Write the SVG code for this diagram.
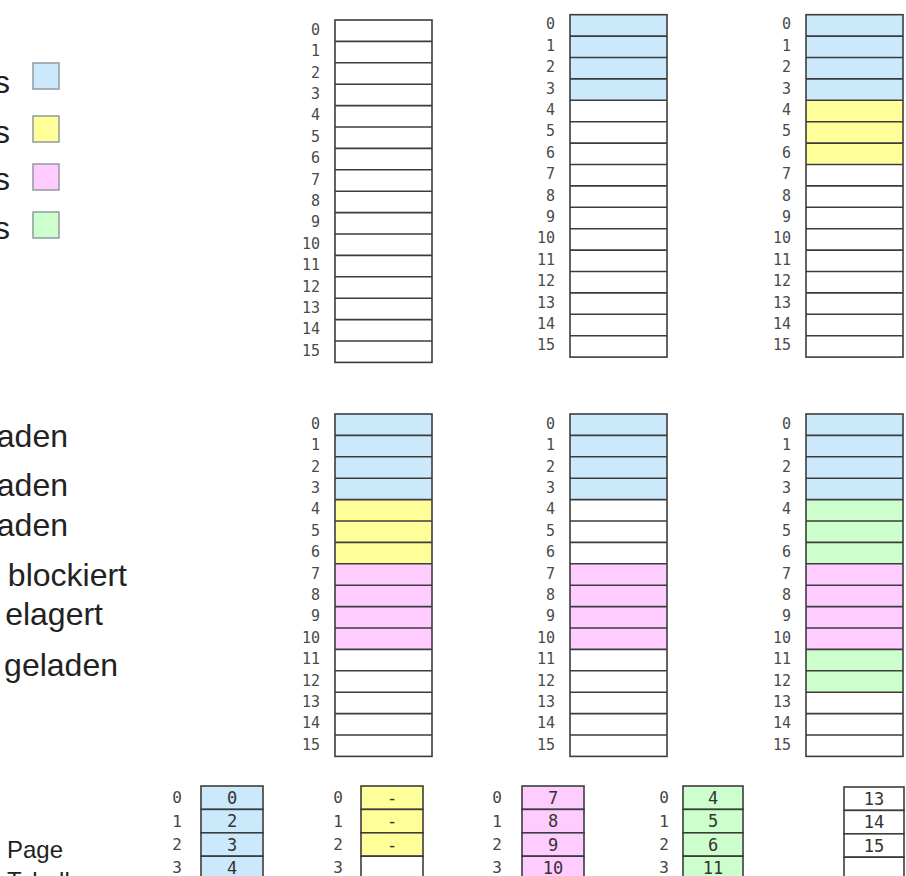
<svg xmlns="http://www.w3.org/2000/svg" xmlns:xlink="http://www.w3.org/1999/xlink" width="906" height="876" viewBox="0 0 906 876">
<style>
.lbl{font-family:"DejaVu Sans Mono","Liberation Mono",monospace;font-size:15px;fill:#4a4a4a;text-anchor:end;dominant-baseline:central}
.tl{font-family:"DejaVu Sans Mono","Liberation Mono",monospace;font-size:16px;fill:#444;text-anchor:middle;dominant-baseline:central}
.tv{font-family:"DejaVu Sans Mono","Liberation Mono",monospace;font-size:17px;fill:#333;text-anchor:middle;dominant-baseline:central}
.big{font-family:"Liberation Sans",Arial,sans-serif;font-size:32px;fill:#222}
.pg{font-family:"Liberation Sans",Arial,sans-serif;font-size:24px;fill:#222}
.ln{stroke:#3c3c3c;stroke-width:1.6;fill:none}
.cell{stroke:#3c3c3c;stroke-width:1.6}
.b{fill:#cce8fb}.y{fill:#ffff99}.p{fill:#ffccff}.g{fill:#ccffcc}.w{fill:#fff}
.lg{stroke:#909aa3;stroke-width:1.5}
</style>
<defs>
<g id="grid">
<rect class="ln" x="0" y="0" width="97" height="342.4"/>
<path class="ln" d="M0 21.4H97M0 42.8H97M0 64.2H97M0 85.6H97M0 107H97M0 128.4H97M0 149.8H97M0 171.2H97M0 192.6H97M0 214H97M0 235.4H97M0 256.8H97M0 278.2H97M0 299.6H97M0 321H97"/>
<text class="lbl" x="-15" y="9.7">0</text>
<text class="lbl" x="-15" y="31.1">1</text>
<text class="lbl" x="-15" y="52.5">2</text>
<text class="lbl" x="-15" y="73.9">3</text>
<text class="lbl" x="-15" y="95.3">4</text>
<text class="lbl" x="-15" y="116.7">5</text>
<text class="lbl" x="-15" y="138.1">6</text>
<text class="lbl" x="-15" y="159.5">7</text>
<text class="lbl" x="-15" y="180.9">8</text>
<text class="lbl" x="-15" y="202.3">9</text>
<text class="lbl" x="-15" y="223.7">10</text>
<text class="lbl" x="-15" y="245.1">11</text>
<text class="lbl" x="-15" y="266.5">12</text>
<text class="lbl" x="-15" y="287.9">13</text>
<text class="lbl" x="-15" y="309.3">14</text>
<text class="lbl" x="-15" y="330.7">15</text>
</g>
</defs>
<rect x="0" y="0" width="906" height="876" fill="#fff"/>

<g id="legend">
<text class="big" x="10" y="93" text-anchor="end">s</text>
<rect class="lg b" x="33" y="63" width="26" height="26"/>
<text class="big" x="10" y="143" text-anchor="end">s</text>
<rect class="lg y" x="33" y="116" width="26" height="26"/>
<text class="big" x="10" y="190" text-anchor="end">s</text>
<rect class="lg p" x="33" y="164" width="26" height="26"/>
<text class="big" x="10" y="239" text-anchor="end">s</text>
<rect class="lg g" x="33" y="212" width="26" height="26"/>
</g>

<g id="steps">
<text class="big" x="68" y="447" text-anchor="end">aden</text>
<text class="big" x="68" y="496" text-anchor="end">aden</text>
<text class="big" x="68" y="536" text-anchor="end">aden</text>
<text class="big" x="127" y="586" text-anchor="end">blockiert</text>
<text class="big" x="103" y="625" text-anchor="end">elagert</text>
<text class="big" x="118" y="676" text-anchor="end">geladen</text>
</g>

<g id="pagetable-caption">
<text class="pg" x="7" y="858">Page</text>
<text class="pg" x="7" y="889">Tabelle</text>
</g>

<g id="mem-t1" transform="translate(335,20)">
<use xlink:href="#grid"/>
</g>
<g id="mem-t2" transform="translate(570,14.7)">
<rect class="b" x="0" y="0" width="97" height="85.6"/>
<use xlink:href="#grid"/>
</g>
<g id="mem-t3" transform="translate(806,14.7)">
<rect class="b" x="0" y="0" width="97" height="85.6"/>
<rect class="y" x="0" y="85.6" width="97" height="64.2"/>
<use xlink:href="#grid"/>
</g>
<g id="mem-b1" transform="translate(335,414)">
<rect class="b" x="0" y="0" width="97" height="85.6"/>
<rect class="y" x="0" y="85.6" width="97" height="64.2"/>
<rect class="p" x="0" y="149.8" width="97" height="85.6"/>
<use xlink:href="#grid"/>
</g>
<g id="mem-b2" transform="translate(570,414)">
<rect class="b" x="0" y="0" width="97" height="85.6"/>
<rect class="p" x="0" y="149.8" width="97" height="85.6"/>
<use xlink:href="#grid"/>
</g>
<g id="mem-b3" transform="translate(806,414)">
<rect class="b" x="0" y="0" width="97" height="85.6"/>
<rect class="g" x="0" y="85.6" width="97" height="64.2"/>
<rect class="p" x="0" y="149.8" width="97" height="85.6"/>
<rect class="g" x="0" y="235.4" width="97" height="42.8"/>
<use xlink:href="#grid"/>
</g>

<g id="pt1">
<rect class="cell b" x="201" y="786" width="62" height="23.4"/>
<rect class="cell b" x="201" y="809.4" width="62" height="23.4"/>
<rect class="cell b" x="201" y="832.8" width="62" height="23.4"/>
<rect class="cell b" x="201" y="856.2" width="62" height="23.4"/>
<text class="tl" x="177" y="797.7">0</text><text class="tl" x="177" y="821.1">1</text><text class="tl" x="177" y="844.5">2</text><text class="tl" x="177" y="867.9">3</text>
<text class="tv" x="232" y="797.7">0</text><text class="tv" x="232" y="821.1">2</text><text class="tv" x="232" y="844.5">3</text><text class="tv" x="232" y="867.9">4</text>
</g>
<g id="pt2">
<rect class="cell y" x="361" y="786" width="62" height="23.4"/>
<rect class="cell y" x="361" y="809.4" width="62" height="23.4"/>
<rect class="cell y" x="361" y="832.8" width="62" height="23.4"/>
<rect class="cell w" x="361" y="856.2" width="62" height="23.4"/>
<text class="tl" x="338" y="797.7">0</text><text class="tl" x="338" y="821.1">1</text><text class="tl" x="338" y="844.5">2</text><text class="tl" x="338" y="867.9">3</text>
<text class="tv" x="392" y="797.7">-</text><text class="tv" x="392" y="821.1">-</text><text class="tv" x="392" y="844.5">-</text>
</g>
<g id="pt3">
<rect class="cell p" x="522" y="786" width="62" height="23.4"/>
<rect class="cell p" x="522" y="809.4" width="62" height="23.4"/>
<rect class="cell p" x="522" y="832.8" width="62" height="23.4"/>
<rect class="cell p" x="522" y="856.2" width="62" height="23.4"/>
<text class="tl" x="497" y="797.7">0</text><text class="tl" x="497" y="821.1">1</text><text class="tl" x="497" y="844.5">2</text><text class="tl" x="497" y="867.9">3</text>
<text class="tv" x="553" y="797.7">7</text><text class="tv" x="553" y="821.1">8</text><text class="tv" x="553" y="844.5">9</text><text class="tv" x="553" y="867.9">10</text>
</g>
<g id="pt4">
<rect class="cell g" x="683" y="786" width="60" height="23.4"/>
<rect class="cell g" x="683" y="809.4" width="60" height="23.4"/>
<rect class="cell g" x="683" y="832.8" width="60" height="23.4"/>
<rect class="cell g" x="683" y="856.2" width="60" height="23.4"/>
<text class="tl" x="664" y="797.7">0</text><text class="tl" x="664" y="821.1">1</text><text class="tl" x="664" y="844.5">2</text><text class="tl" x="664" y="867.9">3</text>
<text class="tv" x="713" y="797.7">4</text><text class="tv" x="713" y="821.1">5</text><text class="tv" x="713" y="844.5">6</text><text class="tv" x="713" y="867.9">11</text>
</g>
<g id="pt5">
<rect class="cell w" x="844" y="787" width="60" height="23.4"/>
<rect class="cell w" x="844" y="810.4" width="60" height="23.4"/>
<rect class="cell w" x="844" y="833.8" width="60" height="23.4"/>
<rect class="cell w" x="844" y="857.2" width="60" height="23.4"/>
<text class="tv" x="874" y="798.7">13</text><text class="tv" x="874" y="822.1">14</text><text class="tv" x="874" y="845.5">15</text>
</g>
</svg>
